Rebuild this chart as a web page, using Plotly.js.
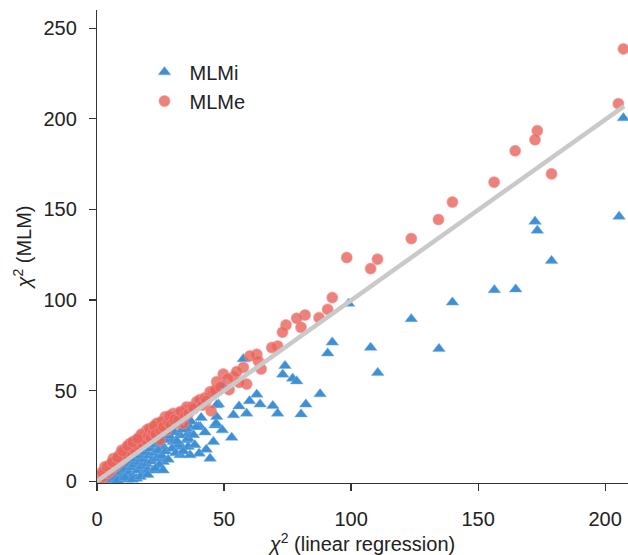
<!DOCTYPE html>
<html>
<head>
<meta charset="utf-8">
<script src="https://cdn.plot.ly/plotly-3.0.1.min.js"></script>
<style>html,body{margin:0;padding:0;background:#fff;}#chart{width:628px;height:555px;}</style>
</head>
<body>
<div id="chart"></div>
<script>
// MLMi (blue triangles): [linear regression chi2, MLM chi2]
const mlmiX = [207.2,205.5,172.4,173.3,178.9,164.8,156.4,139.9,123.7,134.6,99,92.6,90.8,107.7,110.5,87.8,
  57.6,74,73.1,77,78.6,62.9,60,64.2,49.5,47.8,55.9,69.2,82.2,58.9,71.1,80.3,53.7,46.5,49.3,53,45.8,44.5,40.6,
  47.1,47.1,39.9,35.9,35.9,32.7,35.3,30,46.9,35.9,33.3,35.9,40.2,32.7,36.6,26.1,26.1,28.7,32,35.3,39.2,
  0,0.5,1,1.5,2,2.5,3,3.5,4,4.5,5,5.5,6,6.5,7,7.5,8,8.5,9,9.5,10,10.5,11,11.5,12,12.5,13,13.5,14,14.5,15,15.5,16,16.5,17,17.5,18,18.5,19,19.5,20,20.5,21,21.5,22,22.5,23,23.5,24,24.5,25,25.5,26.5,27,28,28.5,29.5,30.5,31,31.5,33.5,34,37,38,38.5,41,42.5,43,
  8,11,14,17,20,23,26];
const mlmiY = [200.4,146,143.3,138.3,121.7,105.9,105.5,98.7,89.5,73.1,98,76.6,70.6,73.7,59.8,48.1,
  67.4,63.7,58.9,56.7,55.2,47.9,44.2,42.4,53,42.5,41.4,41.6,42.4,37.4,37.4,37,36.5,30.9,28.2,24.1,21.7,12.5,30,
  42,35.5,30,30.9,26.3,25.4,22.7,21.7,31.9,23.6,19,19,15.3,14.4,14.4,10.7,19,22.7,19.9,29,30,
  0,0.2,0.8,0.3,1.5,0.5,2.2,1,3,0.8,2,4,1,3,5.5,2,4,6.5,1.5,5,8,3,6.5,9.5,1,5,11,7.5,3,9,12.5,1.5,6,10.5,14,8,4,12,16,9.5,6,14,18,11,6,15.5,20,12.5,17,9,21,14,23,16.5,12,25,18,27,15.5,22,28.5,16.5,33,25.5,20,35,27,17.5,
  0.5,2,1,2.5,3.5,7,6];

// MLMe (red circles)
const mlmeX = [207.2,205.2,173.3,172.4,164.6,178.9,156.3,139.9,134.4,123.7,98.3,110.4,107.7,92.6,90.8,87.4,81.9,78.6,80.3,74.4,73,71.1,68.8,62.9,60.2,63.5,57.6,64.6,49.7,53.7,47.1,58.9,45.8,44.9,
  44.5,39.9,35.3,30,26.8,24.1,21.5,18.9,31.4,27.4,24.8,39.2,35.3,32,23.5,19.6,16.9,13,9.7,6.4,3.1,0,34,46.5,
  0.3,0.8,1.2,1.8,2.2,2.5,3.5,4,4.5,5,5.5,6,7,7.5,8,8.5,9,10,10.5,11,11.5,12,13,14,14.5,15,16,17,17.5,18,19,20,20.5,21,22,22.5,23,25,25.5,26,28,28.5,29,30.5,32,33,34.5,36,37.5,38,40.5,41.5,42.5,43,48.5,51.5,55,56,52,
  2,4,6,8,10,12,14,16];
const mlmeY = [238.5,208.3,193.4,188.4,182.3,169.6,165,154,144.4,133.9,123.4,122.5,117.3,101.3,94.8,90.2,91.7,89.9,84.9,86.2,82.2,74.6,73.7,70,69.1,66.3,62.8,61.9,59.1,57.6,54.9,53.6,48.5,38.8,
  49.3,42.9,39.2,37.4,35.5,31.9,28.2,24.5,31.9,28.2,22.7,43.8,41,37.4,31.9,28.2,24.5,20.8,17.1,12.5,7.9,2.4,31.9,50.3,
  0.3,1.2,2.2,1.8,3.5,2.5,4.5,6.5,4.8,9,6,7.5,8.5,11.5,9.5,14,10.5,12,15,13,18,14.5,16,18.5,22,17,20,22,26,20.5,23,25,29,24,27,30.5,26,28,33,30,32.5,36,31,34,33.5,38.5,36,37.5,41,40,45,42,46,44.5,52,56.5,60.5,54.5,50.5,
  5,8,10.5,13,16.5,19.5,21.5,23.5];

// regression line
const fitX = [0, 207.5];
const fitY = [0, 207];

const xTicks = [0, 50, 100, 150, 200];
const yTicks = [0, 50, 100, 150, 200, 250];

const tickFont = {family: 'Liberation Sans, Arial, sans-serif', size: 20, color: '#222'};

const traces = [
  {x: mlmiX, y: mlmiY, type: 'scatter', mode: 'markers', name: 'MLMi',
   marker: {symbol: 'triangle-up', size: 11, color: '#3f8fd5', line: {width: 0.8, color: 'rgba(120,175,225,0.6)'}}},
  {x: mlmeX, y: mlmeY, type: 'scatter', mode: 'markers', name: 'MLMe',
   marker: {symbol: 'circle', size: 11, color: 'rgba(233,98,90,0.8)', line: {width: 1.2, color: 'rgba(240,150,145,0.5)'}}},
  {x: fitX, y: fitY, type: 'scatter', mode: 'lines', showlegend: false, hoverinfo: 'skip',
   line: {color: '#c9c9c9', width: 4.5}}
];

const layout = {
  width: 628, height: 555,
  margin: {l: 97, r: 0, t: 10, b: 72},
  paper_bgcolor: '#fff', plot_bgcolor: '#fff',
  showlegend: true,
  legend: {x: 0.08, y: 0.91, xanchor: 'left', yanchor: 'top', font: tickFont, bgcolor: 'rgba(0,0,0,0)', tracegroupgap: 0, itemwidth: 40},
  xaxis: {
    range: [0, 209], tickvals: xTicks, ticktext: xTicks.map(String),
    showgrid: false, zeroline: false, showline: true, linecolor: '#333', linewidth: 1.2,
    ticks: 'outside', ticklen: 7, tickcolor: '#333', tickwidth: 1.2,
    tickfont: tickFont, ticklabelstandoff: 11,
    title: {text: '<i>χ</i><sup>2</sup> (linear regression)', font: tickFont, standoff: 8}
  },
  yaxis: {
    range: [-1, 260], tickvals: yTicks, ticktext: yTicks.map(String),
    showgrid: false, zeroline: false, showline: true, linecolor: '#333', linewidth: 1.2,
    ticks: 'outside', ticklen: 7, tickcolor: '#333', tickwidth: 1.2,
    tickfont: tickFont, ticklabelstandoff: 8,
    title: {text: '<i>χ</i><sup>2</sup> (MLM)', font: tickFont, standoff: 6}
  }
};

Plotly.newPlot('chart', traces, layout, {displayModeBar: false, staticPlot: true});
</script>
</body>
</html>
